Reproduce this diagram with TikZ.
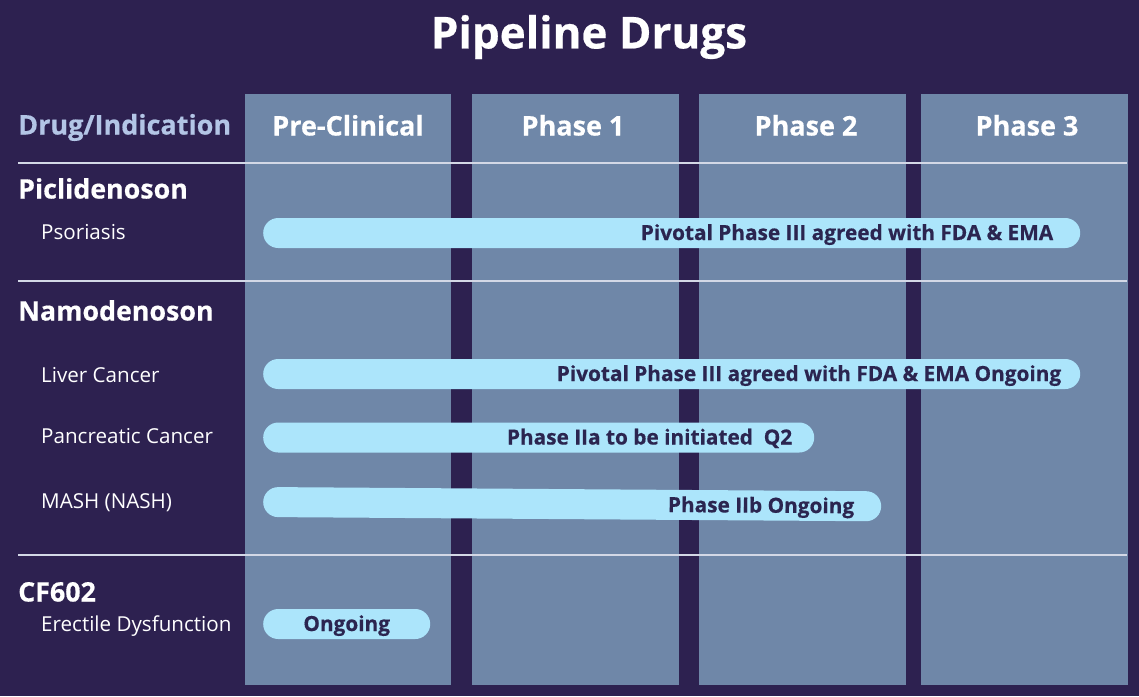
\documentclass[tikz,border=0pt]{standalone}
\usepackage{fontspec}
\setmainfont{Open Sans}
\newfontfamily\heavyfont{Open Sans}[BoldFeatures={FakeBold=0.5}]
\usetikzlibrary{positioning}
\definecolor{pdNight}{HTML}{2D2150}
\definecolor{pdSlate}{HTML}{6F87A8}
\definecolor{pdSky}{HTML}{ACE5FB}
\definecolor{pdInk}{HTML}{2B2550}
\definecolor{pdPale}{HTML}{B3C5E6}
\definecolor{pdRule}{HTML}{D3D8E6}

\begin{document}
\begin{tikzpicture}[
    x=1pt, y=-1pt,
    ttl/.style={font=\heavyfont\fontsize{44}{50}\selectfont\bfseries, text=white, inner sep=0pt},
    hdr/.style={anchor=base, font=\heavyfont\fontsize{27}{32}\selectfont\bfseries, text=white, inner sep=0pt},
    drug/.style={anchor=base west, font=\heavyfont\fontsize{26.8}{32}\selectfont\bfseries, text=white, inner sep=0pt},
    ind/.style={anchor=base west, font=\fontsize{20.6}{24}\selectfont, text=white, inner sep=0pt},
    bar/.style={anchor=west, fill=pdSky, rounded corners=15pt, minimum height=30pt, inner sep=0pt},
    bartxt/.style={anchor=base east, font=\heavyfont\fontsize{20.8}{24}\selectfont\bfseries, text=pdInk, inner sep=0pt},
    rule/.style={draw=pdRule, line width=1.1pt},
  ]
  % page and phase columns (x in px of the 1139 x 696 sheet)
  \fill[pdNight] (0,0) rectangle (1139,696);
  \foreach \xa/\xb in {245/451, 472/679, 699/906, 921/1128}
    \fill[pdSlate] (\xa,94) rectangle (\xb,685);

  \node[ttl] (title) at (589,37) {Pipeline Drugs};

  % header row
  \node[drug, text=pdPale, font=\heavyfont\fontsize{27}{32}\selectfont\bfseries] (hdrDrug) at (18,134.5) {Drug/Indication};
  \node[hdr] (hdrPre) at (348,135.5) {Pre-Clinical};
  \node[hdr] (hdrP1)  at (573,135.5) {Phase 1};
  \node[hdr] (hdrP2)  at (806,135.5) {Phase 2};
  \node[hdr] (hdrP3)  at (1027,135.5) {Phase 3};
  \foreach \y in {163,281,555} \draw[rule] (18,\y) -- (1127,\y);

  % Piclidenoson
  \node[drug] (picli) at (18,198.5) {Piclidenoson};
  \node[ind] (psor) at (41,239) {Psoriasis};
  \node[bar, minimum width=817pt] (psorBar) at (263,233) {};
  \node[bartxt] (psorTxt) at ([xshift=-27pt, yshift=-7pt]psorBar.east) {Pivotal Phase III agreed with FDA \& EMA};

  % Namodenoson
  \node[drug] (namo) at (18,320.5) {Namodenoson};
  \node[ind] (liver) at (41,382) {Liver Cancer};
  \node[bar, minimum width=817pt] (liverBar) at (263,374) {};
  \node[bartxt] (liverTxt) at ([xshift=-19pt, yshift=-7pt]liverBar.east) {Pivotal Phase III agreed with FDA \& EMA Ongoing};

  \node[ind] (panc) at (41,443) {Pancreatic Cancer};
  \node[bar, minimum width=551pt] (pancBar) at (263,437.5) {};
  \node[bartxt] (pancTxt) at ([xshift=-22pt, yshift=-7pt]pancBar.east) {Phase IIa to be initiated\ \ Q2};

  \node[ind] (mash) at (41,508) {MASH (NASH)};
  \node[bar, minimum width=618pt, rotate=-0.4] (mashBar) at (263,502) {};
  \node[bartxt, rotate=-0.4] (mashTxt) at ([xshift=-27pt, yshift=-7pt]mashBar.east) {Phase IIb Ongoing};

  % CF602
  \node[drug] (cf) at (18,601.5) {CF602};
  \node[ind] (erect) at (41,631) {Erectile Dysfunction};
  \node[bar, minimum width=167pt] (erectBar) at (263,624) {};
  \node[bartxt, anchor=base] (erectTxt) at ([yshift=-7pt]erectBar.center) {Ongoing};
\end{tikzpicture}
\end{document}
